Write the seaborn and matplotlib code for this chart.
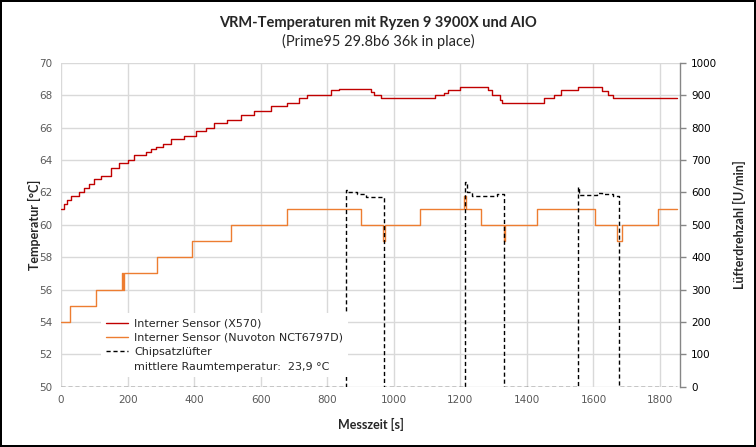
import matplotlib
matplotlib.use("Agg")
import matplotlib.pyplot as plt
from matplotlib.lines import Line2D
import pandas as pd
import seaborn as sns

# Interner Sensor (X570) - Stufen (Zeit [s], Temperatur [°C])
x570_t = [0, 8, 18, 30, 55, 70, 85, 100, 120, 150, 175, 200, 220, 255, 270, 285,
          305, 330, 370, 405, 435, 460, 500, 540, 580, 630, 680, 715, 740, 810,
          835, 930, 940, 962, 1125, 1150, 1163, 1200, 1282, 1295, 1318, 1325,
          1452, 1480, 1503, 1552, 1625, 1645, 1660, 1850]
x570_temp = [61.0, 61.3, 61.5, 61.77, 62.0, 62.25, 62.5, 62.8, 63.0, 63.5, 63.8,
             64.0, 64.3, 64.5, 64.65, 64.8, 65.0, 65.27, 65.47, 65.76, 66.0, 66.25,
             66.46, 66.8, 67.0, 67.3, 67.5, 67.8, 68.0, 68.3, 68.37, 68.2, 68.0,
             67.8, 68.0, 68.1, 68.3, 68.48, 68.3, 68.0, 67.7, 67.5, 67.8, 68.0,
             68.3, 68.48, 68.27, 68.0, 67.8, 67.8]

# Interner Sensor (Nuvoton NCT6797D)
nct_t = [0, 28, 105, 183, 187, 190, 288, 393, 510, 680, 900, 968, 975, 1078,
         1212, 1216, 1262, 1330, 1335, 1430, 1605, 1672, 1685, 1793, 1850]
nct_temp = [54, 55, 56, 57, 56, 57, 58, 59, 60, 61, 60, 59, 60, 61,
            61.8, 61, 60, 59, 60, 61, 60, 59, 60, 61, 61]

# Chipsatzlüfter [U/min]
fan_t = [0, 855, 862, 890, 915, 970, 1215, 1220, 1235, 1310, 1330,
         1552, 1557, 1610, 1625, 1660, 1678, 1850]
fan_rpm = [0, 607, 600, 595, 587, 0, 633, 600, 590, 595, 0,
           617, 592, 598, 595, 588, 0, 0]

df_x570 = pd.DataFrame({"t": x570_t, "T": x570_temp})
df_nct = pd.DataFrame({"t": nct_t, "T": nct_temp})
df_fan = pd.DataFrame({"t": fan_t, "rpm": fan_rpm})

sns.set_style("white")
plt.rcParams["font.family"] = ["DejaVu Sans"]

fig = plt.figure(figsize=(7.56, 4.47), dpi=100)
fig.patch.set_edgecolor("black")
fig.patch.set_linewidth(1.5)
ax = fig.add_axes([0.0807, 0.1349, 0.8188, 0.7248])
ax2 = ax.twinx()

red = "#C00000"
orange = "#ED7D31"

sns.lineplot(data=df_x570, x="t", y="T", ax=ax, color=red, lw=1.0,
             drawstyle="steps-post", label="Interner Sensor (X570)", legend=False)
sns.lineplot(data=df_nct, x="t", y="T", ax=ax, color=orange, lw=1.0,
             drawstyle="steps-post", label="Interner Sensor (Nuvoton NCT6797D)", legend=False)
sns.lineplot(data=df_fan, x="t", y="rpm", ax=ax2, color="black", lw=1.0,
             drawstyle="steps-post", label="Chipsatzlüfter", legend=False)
ax2.lines[0].set_dashes([3, 2])

ax.set_xlim(0, 1860)
ax.set_ylim(50, 70)
ax2.set_ylim(0, 1000)
ax.set_xticks(range(0, 1801, 200))
ax.set_yticks(range(50, 71, 2))
ax2.set_yticks(range(0, 1001, 100))

ax.grid(True, color="#D9D9D9", lw=1)
ax2.grid(False)
for s in ["left", "top", "bottom"]:
    ax.spines[s].set_visible(False)
    ax2.spines[s].set_visible(False)
ax.spines["right"].set_visible(False)
ax2.spines["right"].set_color("#868686")
ax2.spines["right"].set_linewidth(1)

ax.tick_params(axis="both", length=0, labelsize=7.5, colors="#595959", pad=6)
ax2.tick_params(axis="y", length=4, width=1, color="#868686", labelsize=7.5,
                labelcolor="black", pad=4, direction="out")

ax.set_xlabel("Messzeit [s]", fontsize=9, fontweight="bold", family="Lato", labelpad=9)
ax.set_ylabel("Temperatur [°C]", fontsize=9, fontweight="bold", family="Lato", labelpad=-1)
ax2.set_ylabel("Lüfterdrehzahl [U/min]", fontsize=9, fontweight="bold", family="Lato",
               labelpad=11, rotation=90)

fig.text(0.5, 0.948, "VRM-Temperaturen mit Ryzen 9 3900X und AIO", ha="center", va="center",
         fontsize=10.5, fontweight="bold", family="Lato")
fig.text(0.5, 0.908, "(Prime95 29.8b6 36k in place)", ha="center", va="center",
         fontsize=10.5, family="Lato")

handles = [ax.lines[0], ax.lines[1], ax2.lines[0],
           Line2D([], [], color="none")]
labels = ["Interner Sensor (X570)", "Interner Sensor (Nuvoton NCT6797D)",
          "Chipsatzlüfter", "mittlere Raumtemperatur:  23,9 °C"]
leg = ax2.legend(handles, labels, loc="upper left", bbox_to_anchor=(0.055, 0.245),
                 frameon=True, fancybox=False, fontsize=8, handlelength=2.0,
                 handletextpad=0.5, labelspacing=0.4, borderpad=0.5)
leg.get_frame().set_facecolor("white")
leg.get_frame().set_edgecolor("none")
leg.get_frame().set_alpha(1)

fig.savefig("out.png", dpi=100, edgecolor=fig.get_edgecolor())
